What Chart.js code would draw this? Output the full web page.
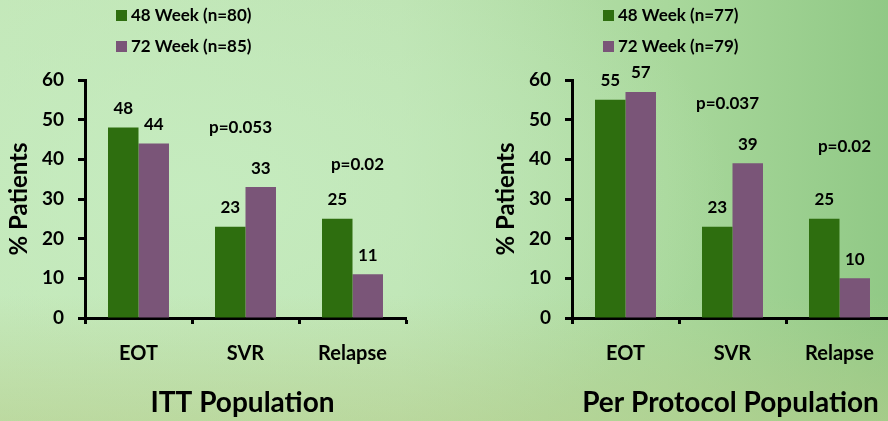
<!DOCTYPE html>
<html>
<head>
<meta charset="utf-8">
<script src="https://cdn.jsdelivr.net/npm/chart.js@4/dist/chart.umd.min.js"></script>
<style>
  html, body { margin: 0; padding: 0; }
  body {
    width: 888px; height: 421px; overflow: hidden; position: relative;
    background:
      linear-gradient(to bottom, rgba(190,210,150,0) 70%, rgba(182,206,140,0.55) 100%),
      radial-gradient(ellipse 60% 70% at 22% 45%, rgba(198,236,192,0.9) 0%, rgba(198,236,192,0) 100%),
      linear-gradient(to right, #c3e7b8 0%, #bde3b2 45%, #a9d89c 75%, #91c986 100%);
  }
  .panel { position: absolute; top: 0; height: 421px; }
  #itt { left: 0; width: 444px; }
  #pp { left: 444px; width: 460px; }
</style>
</head>
<body>
<div class="panel" id="itt"><canvas id="ittChart" width="444" height="421"></canvas></div>
<div class="panel" id="pp"><canvas id="ppChart" width="460" height="421"></canvas></div>
<script>
// Outcome categories and percentages of patients per treatment arm
const categories = ['EOT', 'SVR', 'Relapse'];

const ittSeriesNames = ['48 Week (n=80)', '72 Week (n=85)'];
const ittWeek48 = [48, 23, 25];
const ittWeek72 = [44, 33, 11];
const ittPValues = ['', 'p=0.053', 'p=0.02'];

const ppSeriesNames = ['48 Week (n=77)', '72 Week (n=79)'];
const ppWeek48 = [55, 23, 25];
const ppWeek72 = [57, 39, 10];
const ppPValues = ['', 'p=0.037', 'p=0.02'];

const yTickMin = 0;
const yTickMax = 60;
const yTickStep = 10;

const GREEN = '#2e6e0f';
const PURPLE = '#7a5578';
const FONT = 'Lato, "Open Sans", sans-serif';

// Draws legend, value labels, p-values and panel heading
const panelExtras = {
  id: 'panelExtras',
  afterDatasetsDraw(chart, args, opts) {
    const ctx = chart.ctx;
    const area = chart.chartArea;
    const x = chart.scales.x;
    const y = chart.scales.y;
    ctx.save();
    ctx.fillStyle = '#000';

    // value labels above each bar
    ctx.font = 'bold 17px ' + FONT;
    ctx.textAlign = 'center';
    ctx.textBaseline = 'middle';
    chart.data.datasets.forEach((ds, di) => {
      const meta = chart.getDatasetMeta(di);
      meta.data.forEach((bar, i) => {
        ctx.fillText(String(ds.data[i]), bar.x, y.getPixelForValue(ds.data[i]) - 19);
      });
    });

    // p-value annotations
    opts.pValues.forEach((p, i) => {
      if (!p) return;
      const pos = opts.pValuePos[i];
      ctx.fillText(p, x.getPixelForValue(i) + pos.dx, y.getPixelForValue(pos.v));
    });

    // legend
    ctx.textAlign = 'left';
    ctx.font = 'bold 17px ' + FONT;
    chart.data.datasets.forEach((ds, di) => {
      const lx = area.left + opts.legendDx;
      const ly = 16 + di * 31;
      ctx.fillStyle = ds.backgroundColor;
      ctx.fillRect(lx, ly - 6, 11, 11);
      ctx.fillStyle = '#000';
      ctx.fillText(ds.label, lx + 15, ly);
    });

    // panel heading
    ctx.font = 'bold 28px ' + FONT;
    ctx.textAlign = 'center';
    ctx.fillText(opts.heading, (area.left + area.right) / 2 + opts.headingDx, 403);
    ctx.restore();
  }
};

function makeChart(canvasId, names, s48, s72, pValues, pValuePos, heading, pad, headingDx) {
  return new Chart(document.getElementById(canvasId), {
    type: 'bar',
    data: {
      labels: categories,
      datasets: [
        { label: names[0], data: s48, backgroundColor: GREEN, borderWidth: 0 },
        { label: names[1], data: s72, backgroundColor: PURPLE, borderWidth: 0 }
      ]
    },
    options: {
      responsive: false,
      animation: false,
      events: [],
      layout: { padding: { top: 80, left: pad.left, right: pad.right, bottom: 0 } },
      datasets: { bar: { categoryPercentage: 0.57, barPercentage: 1.0 } },
      scales: {
        x: {
          offset: true,
          grid: { drawOnChartArea: false, drawTicks: true, tickLength: 6, tickWidth: 3, tickColor: '#000', offset: true },
          border: { display: true, color: '#000', width: 3 },
          ticks: { color: '#000', font: { family: FONT, size: 20, weight: 'bold' }, padding: 18 },
          afterFit(scale) { scale.height = 103; }
        },
        y: {
          min: yTickMin, max: yTickMax,
          grid: { drawOnChartArea: false, drawTicks: true, tickLength: 7, tickWidth: 3, tickColor: '#000' },
          border: { display: true, color: '#000', width: 3 },
          ticks: { stepSize: yTickStep, color: '#000', font: { family: FONT, size: 19, weight: 'bold' }, padding: 14 },
          title: { display: true, text: '% Patients', color: '#000', font: { family: FONT, size: 24, weight: 'bold' }, padding: { top: 5, bottom: 4 } },
          afterFit(scale) { scale.width = 85; }
        }
      },
      plugins: {
        legend: { display: false },
        title: { display: false },
        tooltip: { enabled: false },
        panelExtras: { pValues, pValuePos, heading, legendDx: 31, headingDx }
      }
    },
    plugins: [panelExtras]
  });
}

makeChart('ittChart', ittSeriesNames, ittWeek48, ittWeek72, ittPValues,
  [null, { v: 48, dx: -5 }, { v: 38.6, dx: 5 }],
  'ITT Population', { left: 0, right: 38 }, -3);

makeChart('ppChart', ppSeriesNames, ppWeek48, ppWeek72, ppPValues,
  [null, { v: 54, dx: -5 }, { v: 43.2, dx: 5 }],
  'Per Protocol Population', { left: 43, right: 11 }, -2);
</script>
</body>
</html>
